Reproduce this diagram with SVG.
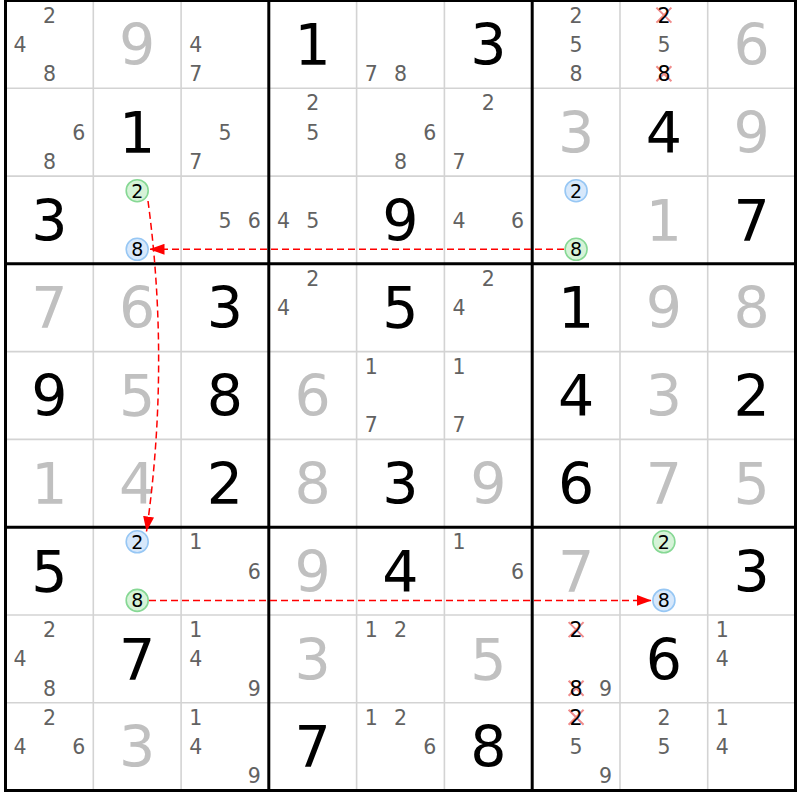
<svg xmlns="http://www.w3.org/2000/svg" xmlns:xlink="http://www.w3.org/1999/xlink" width="800" height="800" viewBox="0 0 800 800">
<style>
text{font-family:"DejaVu Sans",Verdana,sans-serif;text-anchor:middle}
.g{font-size:57px;fill:#000}
.s{font-size:57px;fill:#c0c0c0}
.c{font-size:20.5px;fill:#626262}
.e{font-size:20.5px;fill:#000}
.d{font-size:19px;fill:#000}
.hg{fill:#d6f3d8;stroke:#86d894;stroke-width:1.6}
.hb{fill:#d7e8fb;stroke:#97c7f4;stroke-width:1.6}
.thin{stroke:#d3d3d3;stroke-width:1.6}
.thick{stroke:#000;stroke-width:3}
.arr{fill:none;stroke:#f00;stroke-width:1.5;stroke-dasharray:7,4;marker-end:url(#ah)}
</style>
<defs>
<path id="xm" d="M-7.5,-7.5L7.5,7.5M7.5,-7.5L-7.5,7.5" stroke="#f08c8c" stroke-width="2" fill="none"/>
<marker id="ah" markerUnits="userSpaceOnUse" markerWidth="15" markerHeight="11" refX="15" refY="5.5" orient="auto"><path d="M0,0L15,5.5L0,11z" fill="#f00"/></marker>
</defs>
<rect width="800" height="800" fill="#fff"/>
<g id="grid">
<g class="thin">
<line x1="93.3" y1="0.5" x2="93.3" y2="790.5"/><line x1="181.1" y1="0.5" x2="181.1" y2="790.5"/>
<line x1="356.6" y1="0.5" x2="356.6" y2="790.5"/><line x1="444.4" y1="0.5" x2="444.4" y2="790.5"/>
<line x1="620" y1="0.5" x2="620" y2="790.5"/><line x1="707.7" y1="0.5" x2="707.7" y2="790.5"/>
<line x1="5.5" y1="88.3" x2="795.5" y2="88.3"/><line x1="5.5" y1="176.1" x2="795.5" y2="176.1"/>
<line x1="5.5" y1="351.6" x2="795.5" y2="351.6"/><line x1="5.5" y1="439.4" x2="795.5" y2="439.4"/>
<line x1="5.5" y1="615" x2="795.5" y2="615"/><line x1="5.5" y1="702.7" x2="795.5" y2="702.7"/>
</g>
<g class="thick">
<line x1="268.8" y1="0.5" x2="268.8" y2="790.5"/><line x1="532.2" y1="0.5" x2="532.2" y2="790.5"/>
<line x1="5.5" y1="263.8" x2="795.5" y2="263.8"/><line x1="5.5" y1="527.2" x2="795.5" y2="527.2"/>
<rect x="5.5" y="0.5" width="790" height="790" fill="none"/>
</g>
</g>
<g id="r0c0"><text class="c" x="49.4" y="22.6">2</text><text class="c" x="20.1" y="51.9">4</text><text class="c" x="49.4" y="81.2">8</text></g>
<g id="r0c1"><text class="s" x="137.2" y="65.1">9</text></g>
<g id="r0c2"><text class="c" x="195.7" y="51.9">4</text><text class="c" x="195.7" y="81.2">7</text></g>
<g id="r0c3"><text class="g" x="312.7" y="65.1">1</text></g>
<g id="r0c4"><text class="c" x="371.2" y="81.2">7</text><text class="c" x="400.5" y="81.2">8</text></g>
<g id="r0c5"><text class="g" x="488.3" y="65.1">3</text></g>
<g id="r0c6"><text class="c" x="576.1" y="22.6">2</text><text class="c" x="576.1" y="51.9">5</text><text class="c" x="576.1" y="81.2">8</text></g>
<g id="r0c7"><use xlink:href="#xm" x="663.9" y="15.1"/><text class="e" x="663.9" y="22.6">2</text><text class="c" x="663.9" y="51.9">5</text><use xlink:href="#xm" x="663.9" y="73.7"/><text class="e" x="663.9" y="81.2">8</text></g>
<g id="r0c8"><text class="s" x="751.6" y="65.1">6</text></g>

<g id="r1c0"><text class="c" x="78.7" y="139.7">6</text><text class="c" x="49.4" y="169">8</text></g>
<g id="r1c1"><text class="g" x="137.2" y="152.9">1</text></g>
<g id="r1c2"><text class="c" x="225" y="139.7">5</text><text class="c" x="195.7" y="169">7</text></g>
<g id="r1c3"><text class="c" x="312.7" y="110.4">2</text><text class="c" x="312.7" y="139.7">5</text></g>
<g id="r1c4"><text class="c" x="429.8" y="139.7">6</text><text class="c" x="400.5" y="169">8</text></g>
<g id="r1c5"><text class="c" x="488.3" y="110.4">2</text><text class="c" x="459" y="169">7</text></g>
<g id="r1c6"><text class="s" x="576.1" y="152.9">3</text></g>
<g id="r1c7"><text class="g" x="663.9" y="152.9">4</text></g>
<g id="r1c8"><text class="s" x="751.6" y="152.9">9</text></g>

<g id="r2c0"><text class="g" x="49.4" y="240.7">3</text></g>
<g id="r2c1"><circle class="hg" cx="137.2" cy="190.7" r="11"/><text class="d" x="137.2" y="197.6">2</text><circle class="hb" cx="137.2" cy="249.3" r="11"/><text class="d" x="137.2" y="256.2">8</text></g>
<g id="r2c2"><text class="c" x="225" y="227.5">5</text><text class="c" x="254.3" y="227.5">6</text></g>
<g id="r2c3"><text class="c" x="283.4" y="227.5">4</text><text class="c" x="312.7" y="227.5">5</text></g>
<g id="r2c4"><text class="g" x="400.5" y="240.7">9</text></g>
<g id="r2c5"><text class="c" x="459" y="227.5">4</text><text class="c" x="517.6" y="227.5">6</text></g>
<g id="r2c6"><circle class="hb" cx="576.1" cy="190.7" r="11"/><text class="d" x="576.1" y="197.6">2</text><circle class="hg" cx="576.1" cy="249.3" r="11"/><text class="d" x="576.1" y="256.2">8</text></g>
<g id="r2c7"><text class="s" x="663.9" y="240.7">1</text></g>
<g id="r2c8"><text class="g" x="751.6" y="240.7">7</text></g>

<g id="r3c0"><text class="s" x="49.4" y="328.4">7</text></g>
<g id="r3c1"><text class="s" x="137.2" y="328.4">6</text></g>
<g id="r3c2"><text class="g" x="225" y="328.4">3</text></g>
<g id="r3c3"><text class="c" x="312.7" y="285.9">2</text><text class="c" x="283.4" y="315.2">4</text></g>
<g id="r3c4"><text class="g" x="400.5" y="328.4">5</text></g>
<g id="r3c5"><text class="c" x="488.3" y="285.9">2</text><text class="c" x="459" y="315.2">4</text></g>
<g id="r3c6"><text class="g" x="576.1" y="328.4">1</text></g>
<g id="r3c7"><text class="s" x="663.9" y="328.4">9</text></g>
<g id="r3c8"><text class="s" x="751.6" y="328.4">8</text></g>

<g id="r4c0"><text class="g" x="49.4" y="416.2">9</text></g>
<g id="r4c1"><text class="s" x="137.2" y="416.2">5</text></g>
<g id="r4c2"><text class="g" x="225" y="416.2">8</text></g>
<g id="r4c3"><text class="s" x="312.7" y="416.2">6</text></g>
<g id="r4c4"><text class="c" x="371.2" y="373.7">1</text><text class="c" x="371.2" y="432.3">7</text></g>
<g id="r4c5"><text class="c" x="459" y="373.7">1</text><text class="c" x="459" y="432.3">7</text></g>
<g id="r4c6"><text class="g" x="576.1" y="416.2">4</text></g>
<g id="r4c7"><text class="s" x="663.9" y="416.2">3</text></g>
<g id="r4c8"><text class="g" x="751.6" y="416.2">2</text></g>

<g id="r5c0"><text class="s" x="49.4" y="504">1</text></g>
<g id="r5c1"><text class="s" x="137.2" y="504">4</text></g>
<g id="r5c2"><text class="g" x="225" y="504">2</text></g>
<g id="r5c3"><text class="s" x="312.7" y="504">8</text></g>
<g id="r5c4"><text class="g" x="400.5" y="504">3</text></g>
<g id="r5c5"><text class="s" x="488.3" y="504">9</text></g>
<g id="r5c6"><text class="g" x="576.1" y="504">6</text></g>
<g id="r5c7"><text class="s" x="663.9" y="504">7</text></g>
<g id="r5c8"><text class="s" x="751.6" y="504">5</text></g>

<g id="r6c0"><text class="g" x="49.4" y="591.8">5</text></g>
<g id="r6c1"><circle class="hb" cx="137.2" cy="541.8" r="11"/><text class="d" x="137.2" y="548.7">2</text><circle class="hg" cx="137.2" cy="600.4" r="11"/><text class="d" x="137.2" y="607.3">8</text></g>
<g id="r6c2"><text class="c" x="195.7" y="549.3">1</text><text class="c" x="254.3" y="578.6">6</text></g>
<g id="r6c3"><text class="s" x="312.7" y="591.8">9</text></g>
<g id="r6c4"><text class="g" x="400.5" y="591.8">4</text></g>
<g id="r6c5"><text class="c" x="459" y="549.3">1</text><text class="c" x="517.6" y="578.6">6</text></g>
<g id="r6c6"><text class="s" x="576.1" y="591.8">7</text></g>
<g id="r6c7"><circle class="hg" cx="663.9" cy="541.8" r="11"/><text class="d" x="663.9" y="548.7">2</text><circle class="hb" cx="663.9" cy="600.4" r="11"/><text class="d" x="663.9" y="607.3">8</text></g>
<g id="r6c8"><text class="g" x="751.6" y="591.8">3</text></g>

<g id="r7c0"><text class="c" x="49.4" y="637.1">2</text><text class="c" x="20.1" y="666.4">4</text><text class="c" x="49.4" y="695.7">8</text></g>
<g id="r7c1"><text class="g" x="137.2" y="679.6">7</text></g>
<g id="r7c2"><text class="c" x="195.7" y="637.1">1</text><text class="c" x="195.7" y="666.4">4</text><text class="c" x="254.3" y="695.7">9</text></g>
<g id="r7c3"><text class="s" x="312.7" y="679.6">3</text></g>
<g id="r7c4"><text class="c" x="371.2" y="637.1">1</text><text class="c" x="400.5" y="637.1">2</text></g>
<g id="r7c5"><text class="s" x="488.3" y="679.6">5</text></g>
<g id="r7c6"><use xlink:href="#xm" x="576.1" y="629.6"/><text class="e" x="576.1" y="637.1">2</text><use xlink:href="#xm" x="576.1" y="688.2"/><text class="e" x="576.1" y="695.7">8</text><text class="c" x="605.4" y="695.7">9</text></g>
<g id="r7c7"><text class="g" x="663.9" y="679.6">6</text></g>
<g id="r7c8"><text class="c" x="722.3" y="637.1">1</text><text class="c" x="722.3" y="666.4">4</text></g>

<g id="r8c0"><text class="c" x="49.4" y="724.8">2</text><text class="c" x="20.1" y="754.1">4</text><text class="c" x="78.7" y="754.1">6</text></g>
<g id="r8c1"><text class="s" x="137.2" y="767.3">3</text></g>
<g id="r8c2"><text class="c" x="195.7" y="724.8">1</text><text class="c" x="195.7" y="754.1">4</text><text class="c" x="254.3" y="783.4">9</text></g>
<g id="r8c3"><text class="g" x="312.7" y="767.3">7</text></g>
<g id="r8c4"><text class="c" x="371.2" y="724.8">1</text><text class="c" x="400.5" y="724.8">2</text><text class="c" x="429.8" y="754.1">6</text></g>
<g id="r8c5"><text class="g" x="488.3" y="767.3">8</text></g>
<g id="r8c6"><use xlink:href="#xm" x="576.1" y="717.3"/><text class="e" x="576.1" y="724.8">2</text><text class="c" x="576.1" y="754.1">5</text><text class="c" x="605.4" y="783.4">9</text></g>
<g id="r8c7"><text class="c" x="663.9" y="724.8">2</text><text class="c" x="663.9" y="754.1">5</text></g>
<g id="r8c8"><text class="c" x="722.3" y="724.8">1</text><text class="c" x="722.3" y="754.1">4</text></g>

<g id="connectors">
<path class="arr" d="M564,249.3L149.5,249.3"/>
<path class="arr" d="M148,201Q170,365 146.5,531.5"/>
<path class="arr" d="M149,600.4L651.5,600.4"/>
</g>
</svg>
